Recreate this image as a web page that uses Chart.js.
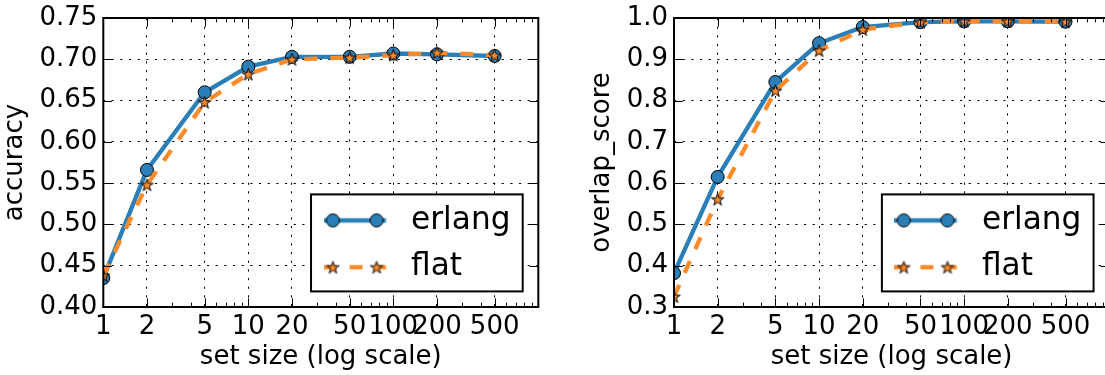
<!DOCTYPE html>
<html>
<head>
<meta charset="utf-8">
<script src="https://cdn.jsdelivr.net/npm/chart.js@4.4.1/dist/chart.umd.min.js"></script>
<style>
  html, body { margin: 0; padding: 0; background: #fff; width: 1105px; height: 375px; overflow: hidden; }
  .panel { position: absolute; top: 0; }
  canvas { display: block; }
</style>
</head>
<body>
<div class="panel" style="left:0px"><canvas id="accuracyChart" width="560" height="375"></canvas></div>
<div class="panel" style="left:560px"><canvas id="overlapChart" width="560" height="375"></canvas></div>
<script>
// ---- data ----
const setSizes = [1, 2, 5, 10, 20, 50, 100, 200, 500];
const xTickValues = [1, 2, 5, 10, 20, 50, 100, 200, 500];
const xTickLabels = ['1', '2', '5', '10', '20', '50', '100', '200', '500'];

const accuracyErlang = [0.435, 0.566, 0.660, 0.691, 0.703, 0.703, 0.707, 0.706, 0.704];
const accuracyFlat   = [0.438, 0.548, 0.648, 0.682, 0.700, 0.702, 0.705, 0.708, 0.705];
const accuracyTicks  = [0.40, 0.45, 0.50, 0.55, 0.60, 0.65, 0.70, 0.75];
const accuracyTickLabels = ['0.40', '0.45', '0.50', '0.55', '0.60', '0.65', '0.70', '0.75'];

const overlapErlang = [0.382, 0.615, 0.845, 0.939, 0.978, 0.990, 0.992, 0.992, 0.991];
const overlapFlat   = [0.325, 0.561, 0.824, 0.921, 0.972, 0.990, 0.992, 0.992, 0.991];
const overlapTicks  = [0.3, 0.4, 0.5, 0.6, 0.7, 0.8, 0.9, 1.0];
const overlapTickLabels = ['0.3', '0.4', '0.5', '0.6', '0.7', '0.8', '0.9', '1.0'];

const seriesNames = ['erlang', 'flat'];

// ---- styling ----
const PT = 156 / 72;                 // pixels per point
const BLUE = '#2b7fb8';
const ORANGE = '#fe8b2a';
const LINE_W = 2 * PT;
const MARKER_R = 3 * PT;
const DASH = [6 * PT, 6 * PT];
const GRID_DASH = [1 * PT, 3 * PT];
const FONT_FAMILY = '"DejaVu Sans", "Liberation Sans", sans-serif';
const TICK_FS = 26;
const LEGEND_FS = 14.4 * PT;
const MAJOR_LEN = 4 * PT;
const MINOR_LEN = 2 * PT;

// minor tick positions of a log axis between the labelled ones
const xMinorTicks = [];
for (let p = 1; p <= 100; p *= 10) {
  for (let m = 2; m <= 9; m++) {
    const v = m * p;
    if (!xTickValues.includes(v)) xMinorTicks.push(v);
  }
}

function starImage(r, fill) {
  const s = Math.ceil(2 * r + 4);
  const c = document.createElement('canvas');
  c.width = s; c.height = s;
  const g = c.getContext('2d');
  const cx = s / 2, cy = s / 2 + 0.6;
  g.beginPath();
  for (let i = 0; i < 10; i++) {
    const rr = i % 2 ? r * 0.381966 : r;
    const a = -Math.PI / 2 + i * Math.PI / 5;
    g.lineTo(cx + rr * Math.cos(a), cy + rr * Math.sin(a));
  }
  g.closePath();
  g.fillStyle = fill; g.fill();
  g.lineWidth = 1; g.strokeStyle = '#000'; g.stroke();
  return c;
}
const STAR = starImage(MARKER_R, ORANGE);

// legend handle: a short line with a marker near each end
const HANDLE_LEN = 2.0 * LEGEND_FS;
const HANDLE_SLOT = HANDLE_LEN + 0.3 * LEGEND_FS; // extra room so the label sits 0.8em after the line
function legendHandle(color, dash, marker) {
  const c = document.createElement('canvas');
  c.width = Math.round(HANDLE_SLOT);
  c.height = 20;
  const g = c.getContext('2d');
  const y = c.height / 2;
  g.strokeStyle = color; g.lineWidth = LINE_W; g.lineCap = 'butt';
  g.setLineDash(dash);
  g.beginPath(); g.moveTo(0, y); g.lineTo(HANDLE_LEN, y); g.stroke();
  g.setLineDash([]);
  const pad = 0.3 * LEGEND_FS;
  [pad, HANDLE_LEN - pad].forEach(px => {
    if (marker === 'circle') {
      g.beginPath(); g.arc(px, y, MARKER_R, 0, Math.PI * 2);
      g.fillStyle = color; g.fill(); g.lineWidth = 1; g.strokeStyle = '#000'; g.stroke();
    } else {
      g.drawImage(marker, px - marker.width / 2, y - marker.height / 2);
    }
  });
  return c;
}
const HANDLE_ERLANG = legendHandle(BLUE, [], 'circle');
const HANDLE_FLAT = legendHandle(ORANGE, DASH, STAR);

// legend placed at the lower right inside the plot, items positioned by the legend itself
const legendPlacement = {
  id: 'legendPlacement',
  afterLayout(chart) {
    const lg = chart.legend, a = chart.chartArea, fs = LEGEND_FS;
    const ctx = chart.ctx;
    ctx.save();
    ctx.font = fs + 'px ' + FONT_FAMILY;
    const tw = Math.max(...seriesNames.map(t => ctx.measureText(t).width));
    ctx.restore();
    const boxW = 0.4 * fs * 2 + HANDLE_LEN + 0.8 * fs + tw;
    const right = a.right - 0.5 * fs;
    const bottom = a.bottom - 0.5 * fs;
    const top = bottom - 97;
    const left = right - boxW;
    chart.$legendBox = { left, top, right, bottom };
    const pad = lg.options.labels.padding;
    lg.left = left + 0.4 * fs - pad;
    lg.top = top + 26 - fs / 2 - pad;
    lg.right = right;
    lg.bottom = bottom + 30;
    lg.width = lg.right - lg.left;
    lg.height = lg.bottom - lg.top;
  }
};

// inward ticks on all four sides, axes frame, legend frame drawn over the data
const axesDecor = {
  id: 'axesDecor',
  afterDatasetsDraw(chart) {
    const { ctx, chartArea: a } = chart;
    const xs = chart.scales.x, ys = chart.scales.y;
    ctx.save();
    ctx.strokeStyle = '#000';
    ctx.lineWidth = 1;
    ctx.beginPath();
    const vtick = (v, len) => {
      const px = Math.round(xs.getPixelForValue(v)) + 0.5;
      ctx.moveTo(px, a.bottom); ctx.lineTo(px, a.bottom - len);
      ctx.moveTo(px, a.top); ctx.lineTo(px, a.top + len);
    };
    xTickValues.forEach(v => vtick(v, MAJOR_LEN));
    xMinorTicks.forEach(v => vtick(v, MINOR_LEN));
    ys.ticks.forEach(t => {
      const py = Math.round(ys.getPixelForValue(t.value)) + 0.5;
      ctx.moveTo(a.left, py); ctx.lineTo(a.left + MAJOR_LEN, py);
      ctx.moveTo(a.right, py); ctx.lineTo(a.right - MAJOR_LEN, py);
    });
    ctx.stroke();
    ctx.lineWidth = 2;
    ctx.strokeRect(a.left, a.top, a.right - a.left, a.bottom - a.top);

    const b = chart.$legendBox;
    if (b) {
      ctx.fillStyle = '#fff';
      ctx.fillRect(b.left, b.top, b.right - b.left, b.bottom - b.top);
      ctx.lineWidth = 2;
      ctx.strokeRect(b.left, b.top, b.right - b.left, b.bottom - b.top);
    }
    ctx.restore();
    chart.legend.draw();
  }
};

function xy(xsArr, ysArr) { return xsArr.map((v, i) => ({ x: v, y: ysArr[i] })); }

function makeChart(canvasId, yTitle, erlang, flat, yTicks, yTickLabels, yMin, yMax, pad, yWidth) {
  const font = { family: FONT_FAMILY, size: TICK_FS };
  return new Chart(document.getElementById(canvasId), {
    type: 'line',
    data: {
      datasets: [
        {
          label: seriesNames[0], data: xy(setSizes, erlang),
          borderColor: BLUE, backgroundColor: BLUE, borderWidth: LINE_W,
          borderJoinStyle: 'round', tension: 0,
          pointStyle: 'circle', pointRadius: MARKER_R, pointBackgroundColor: BLUE,
          pointBorderColor: '#000', pointBorderWidth: 1, pointHoverRadius: MARKER_R,
          order: 1, clip: 0
        },
        {
          label: seriesNames[1], data: xy(setSizes, flat),
          borderColor: ORANGE, backgroundColor: ORANGE, borderWidth: LINE_W,
          borderDash: DASH, borderJoinStyle: 'round', tension: 0,
          pointStyle: STAR, pointRadius: MARKER_R, pointHoverRadius: MARKER_R,
          order: 0, clip: 0
        }
      ]
    },
    options: {
      responsive: false,
      animation: false,
      events: [],
      layout: { padding: pad },
      plugins: {
        tooltip: { enabled: false },
        legend: {
          position: 'chartArea',
          align: 'start',
          labels: {
            usePointStyle: true,
            pointStyleWidth: Math.round(HANDLE_SLOT),
            padding: LEGEND_FS / 2,
            color: '#000',
            font: { family: FONT_FAMILY, size: LEGEND_FS },
            generateLabels: () => [
              { text: seriesNames[0], pointStyle: HANDLE_ERLANG, fillStyle: BLUE, strokeStyle: BLUE, lineWidth: 0, hidden: false, datasetIndex: 0 },
              { text: seriesNames[1], pointStyle: HANDLE_FLAT, fillStyle: ORANGE, strokeStyle: ORANGE, lineWidth: 0, hidden: false, datasetIndex: 1 }
            ]
          }
        }
      },
      scales: {
        x: {
          type: 'logarithmic', min: 1, max: 1000,
          afterBuildTicks: s => { s.ticks = xTickValues.map(v => ({ value: v })); },
          afterFit: s => { s.height = 68; s.paddingLeft = 0; s.paddingRight = 0; },
          ticks: {
            autoSkip: false, maxRotation: 0, minRotation: 0, padding: 5,
            color: '#000', font,
            callback: (v, i) => xTickLabels[i]
          },
          grid: { color: '#000', lineWidth: 1, drawTicks: false },
          border: { display: false, dash: GRID_DASH },
          title: {
            display: true, text: 'set size (log scale)', color: '#000', font,
            padding: { top: 0, bottom: 2.4 }
          }
        },
        y: {
          type: 'linear', min: yMin, max: yMax,
          afterBuildTicks: s => { s.ticks = yTicks.map(v => ({ value: v })); },
          afterFit: s => { s.width = yWidth; s.paddingTop = 0; s.paddingBottom = 0; },
          ticks: {
            padding: 6, color: '#000', font,
            callback: (v, i) => yTickLabels[i]
          },
          grid: { color: '#000', lineWidth: 1, drawTicks: false },
          border: { display: false, dash: GRID_DASH },
          title: {
            display: true, text: yTitle, color: '#000', font,
            padding: { top: 0, bottom: 0 }
          }
        }
      }
    },
    plugins: [legendPlacement, axesDecor]
  });
}

makeChart('accuracyChart', 'accuracy', accuracyErlang, accuracyFlat,
  accuracyTicks, accuracyTickLabels, 0.40, 0.75,
  { left: 0, right: 560 - 538.3, top: 18, bottom: 0 }, 103.3);

makeChart('overlapChart', 'overlap_score', overlapErlang, overlapFlat,
  overlapTicks, overlapTickLabels, 0.3, 1.0,
  { left: 26.4, right: 10, top: 18, bottom: 0 }, 674 - 560 - 26.4);
</script>
</body>
</html>
